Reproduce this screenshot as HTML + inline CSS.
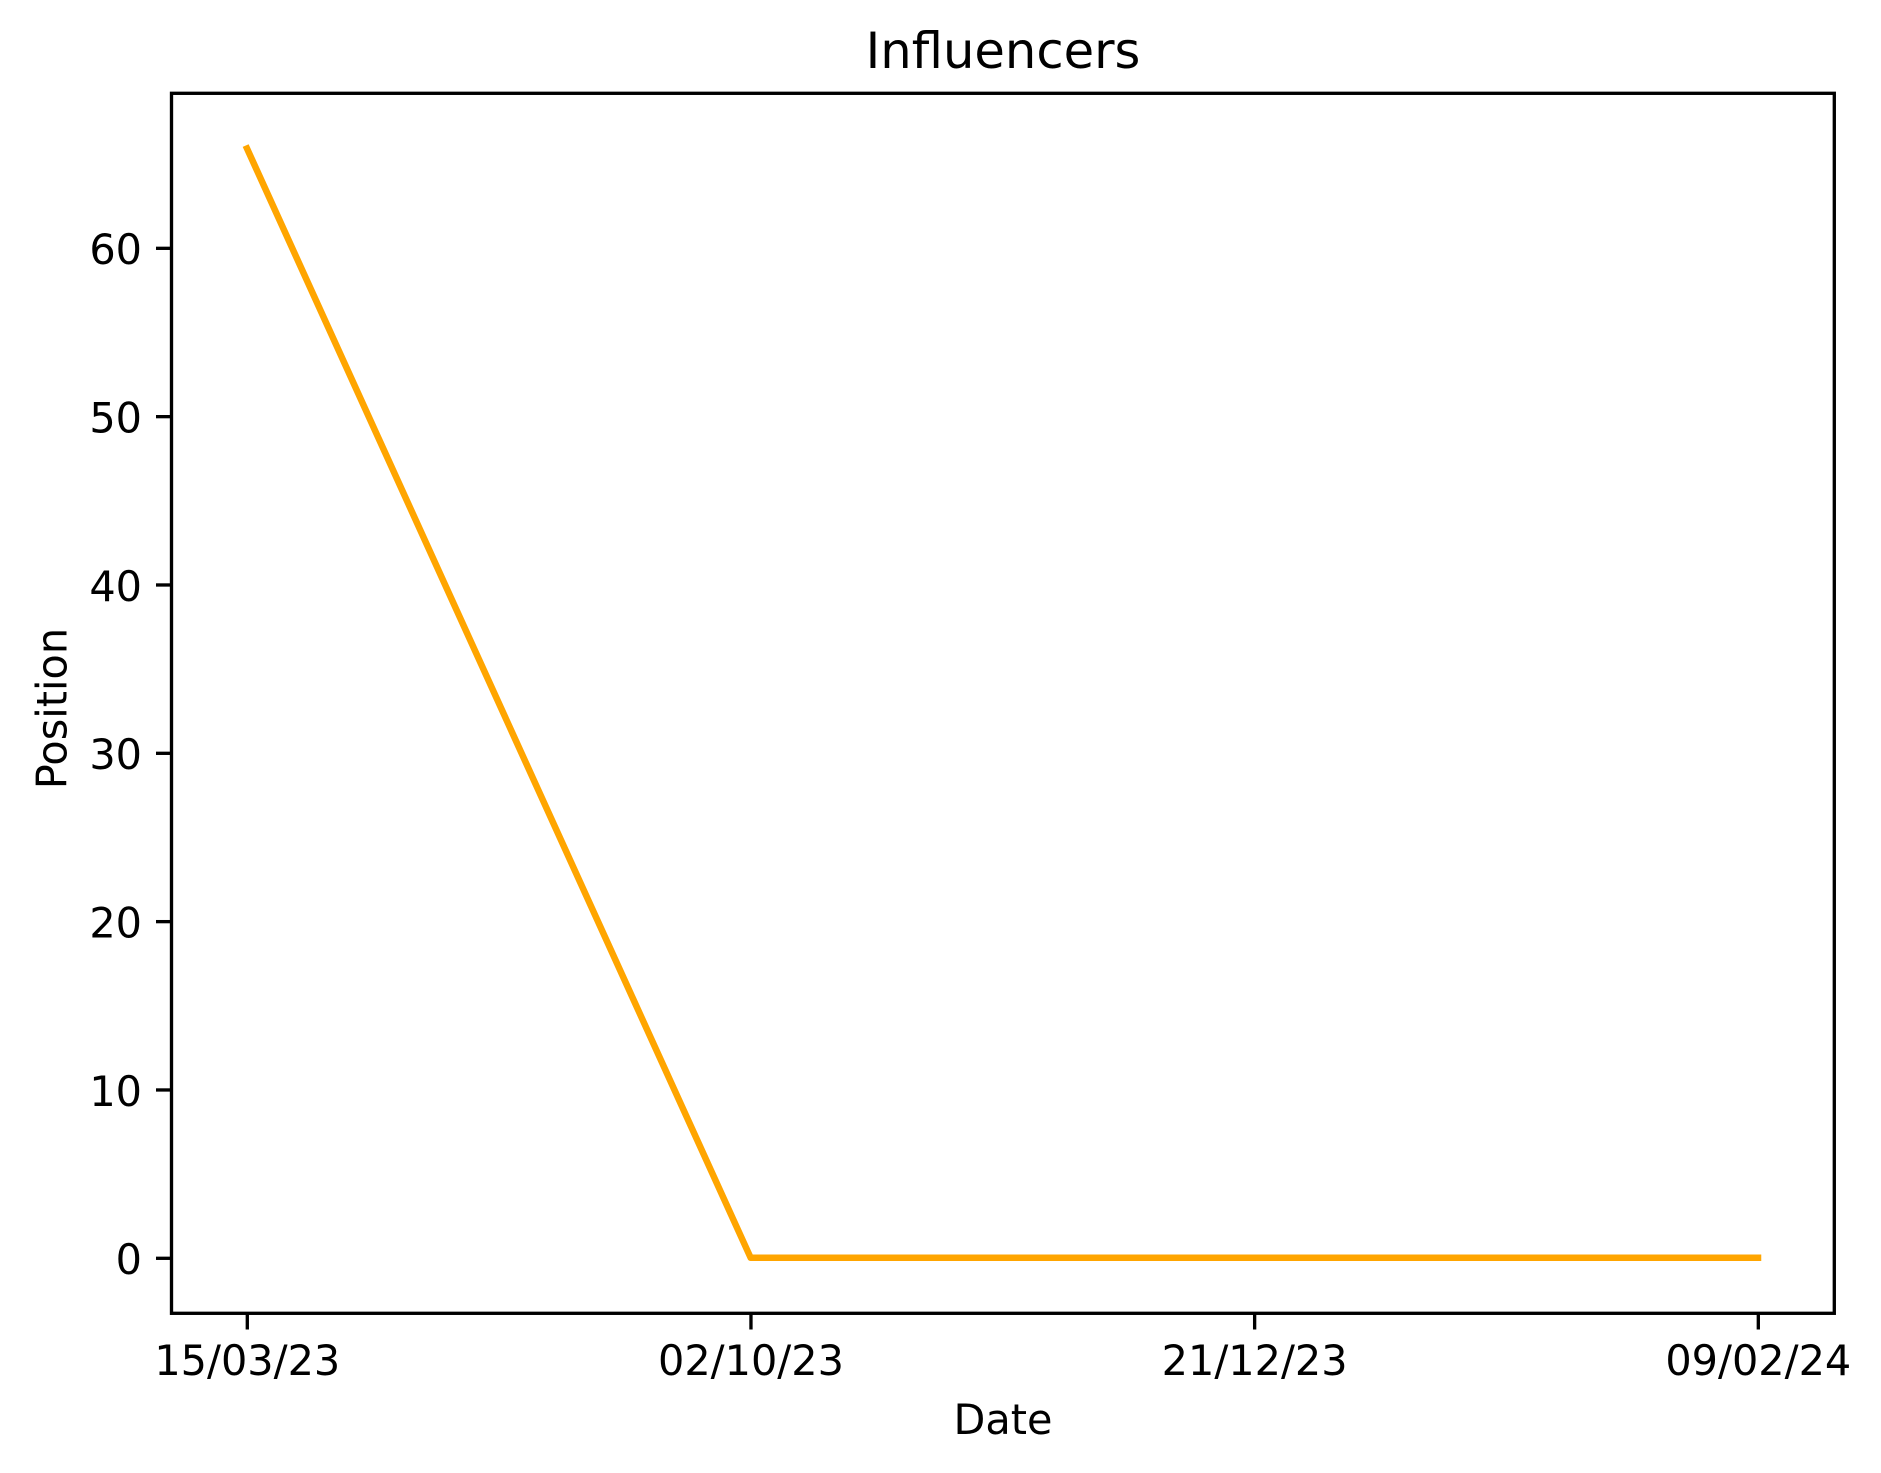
<!DOCTYPE html>
<html>
<head>
<meta charset="utf-8">
<title>Influencers</title>
<style>
html,body{margin:0;padding:0;background:#fff;}
svg{display:block;}
text{font-family:"DejaVu Sans","Liberation Sans",sans-serif;fill:#000;}
</style>
</head>
<body>
<svg id="chart" xmlns="http://www.w3.org/2000/svg" width="1881" height="1473" viewBox="0 0 1881 1473">
  <rect x="0" y="0" width="1881" height="1473" fill="#ffffff"/>
  <text x="1003" y="68" font-size="49.6" text-anchor="middle">Influencers</text>
  <text x="1003" y="1434" font-size="41.4" text-anchor="middle">Date</text>
  <text transform="translate(66.5 708.5) rotate(-90)" font-size="41.4" text-anchor="middle">Position</text>
  <g id="ticks"></g>
  <g id="series" transform="translate(-0.3 -0.5)"></g>
  <rect x="171.5" y="93.3" width="1662.8" height="1220" fill="none" stroke="#000" stroke-width="3.33"/>
</svg>
<script>
const categories = ["15/03/23", "02/10/23", "21/12/23", "09/02/24"];
const positionValues = [65.9, 0, 0, 0];
const yTickValues = [0, 10, 20, 30, 40, 50, 60];

const NS = "http://www.w3.org/2000/svg";
const xAt0 = 247.3, xStep = 503.67;
const yAt0 = 1258.3, yUnit = 16.833;
function xScale(i) { return xAt0 + i * xStep; }
function yScale(v) { return yAt0 - v * yUnit; }
function make(tag, attrs, parent) {
  const el = document.createElementNS(NS, tag);
  for (const k in attrs) el.setAttribute(k, attrs[k]);
  parent.appendChild(el);
  return el;
}
const ticks = document.getElementById("ticks");
const series = document.getElementById("series");

categories.forEach(function (label, i) {
  const x = xScale(i);
  const tick = make("line", {x1: x, x2: x, y1: 1313.3, y2: 1329.5, stroke: "#000", "stroke-width": 3.33}, ticks);
  
  
  const text = make("text", {x: x, y: 1375, "font-size": 41.4, "text-anchor": "middle"}, ticks);
  
  
  text.textContent = label;
});

yTickValues.forEach(function (v) {
  const y = yScale(v);
  const tick = make("line", {x1: 156, x2: 171.5, y1: y, y2: y, stroke: "#000", "stroke-width": 3.33}, ticks);
  
  
  const text = make("text", {x: 142, y: y + 15.8, "font-size": 41.4, "text-anchor": "end"}, ticks);
  
  
  text.textContent = String(v);
});

const points = positionValues.map(function (v, i) { return xScale(i) + "," + yScale(v); }).join(" ");
const line = make("polyline", {points: points, fill: "none", stroke: "#ffa500", "stroke-width": 6.5, "stroke-linecap": "square", "stroke-linejoin": "round"}, series);


</script>
</body>
</html>
